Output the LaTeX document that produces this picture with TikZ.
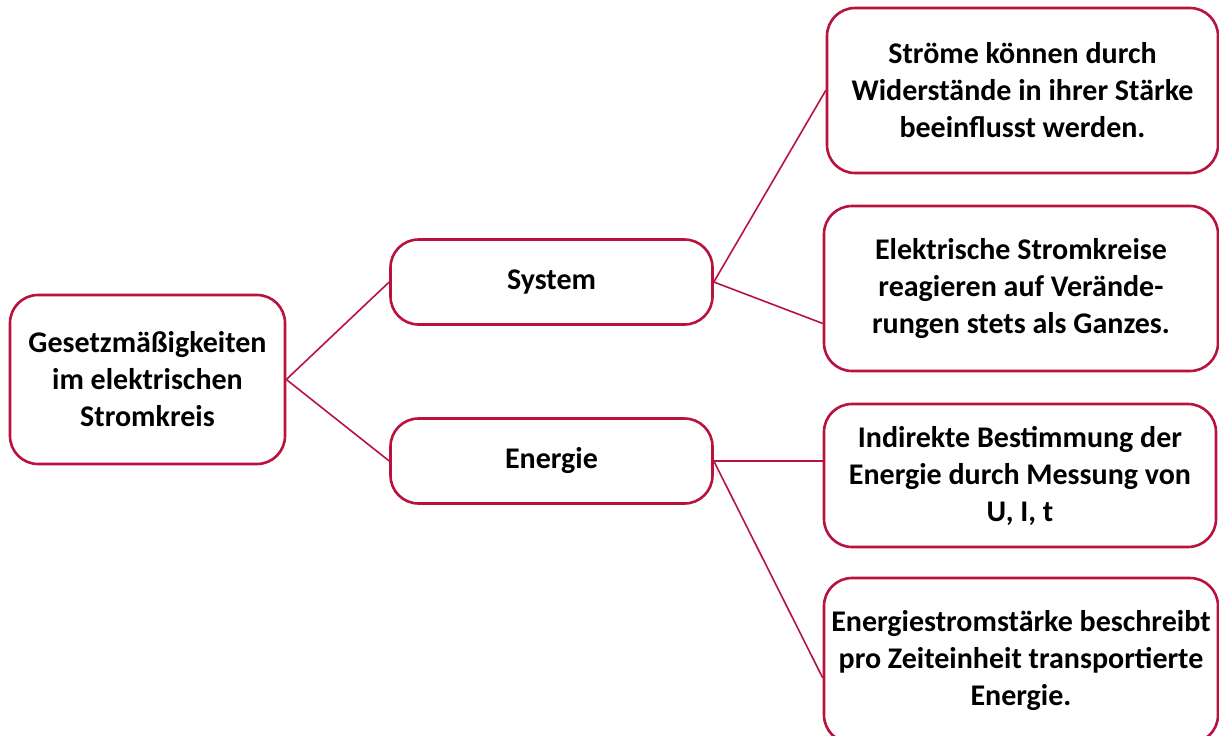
\documentclass[tikz,border=0pt]{standalone}
\usepackage{fontspec}
\setmainfont{Carlito}
\definecolor{rahmen}{RGB}{185,18,63}
\begin{document}
\begin{tikzpicture}[x=1pt,y=-1pt,font=\bfseries\fontsize{30}{37}\selectfont,
    box/.style={draw=rahmen,line width=2.6pt,rounded corners=28pt,align=center,inner xsep=0pt}]
    \useasboundingbox (0,0) rectangle (1219,736);
    \node[box,minimum width=275pt,minimum height=169pt] (root) at (147.5,379.5){Gesetzmäßigkeiten\\im elektrischen\\Stromkreis};
    \node[box,minimum width=322pt,minimum height=85pt] (sys) at (551.5,282){System};
    \node[box,minimum width=322pt,minimum height=85pt] (ene) at (551.5,461){Energie};
    \node[box,minimum width=391pt,minimum height=165pt] (s1) at (1022.5,90.5){Ströme können durch\\Widerstände in ihrer Stärke\\beeinflusst werden.};
    \node[box,minimum width=394pt,minimum height=165pt] (s2) at (1021,288.5){Elektrische Stromkreise\\reagieren auf Verände-\\rungen stets als Ganzes.};
    \node[box,minimum width=392pt,minimum height=143pt] (e1) at (1020,475.5){Indirekte Bestimmung der\\Energie durch Messung von\\U, I, t};
    \node[box,minimum width=394pt,minimum height=165pt] (e2) at (1021,660.5){Energiestromstärke beschreibt\\pro Zeiteinheit transportierte\\Energie.};

    \draw[rahmen,line width=1.6pt] (root.east) -- (sys.west);
    \draw[rahmen,line width=1.6pt] (root.east) -- (ene.west);
    \draw[rahmen,line width=1.6pt] (sys.east) -- (s1.west);
    \draw[rahmen,line width=1.6pt] (sys.east) -- (s2.190);
    \draw[rahmen,line width=1.6pt] (ene.east) -- (ene.east -| e1.west);
    \draw[rahmen,line width=1.6pt] (ene.east) -- (e2.185);
\end{tikzpicture}
\end{document}
